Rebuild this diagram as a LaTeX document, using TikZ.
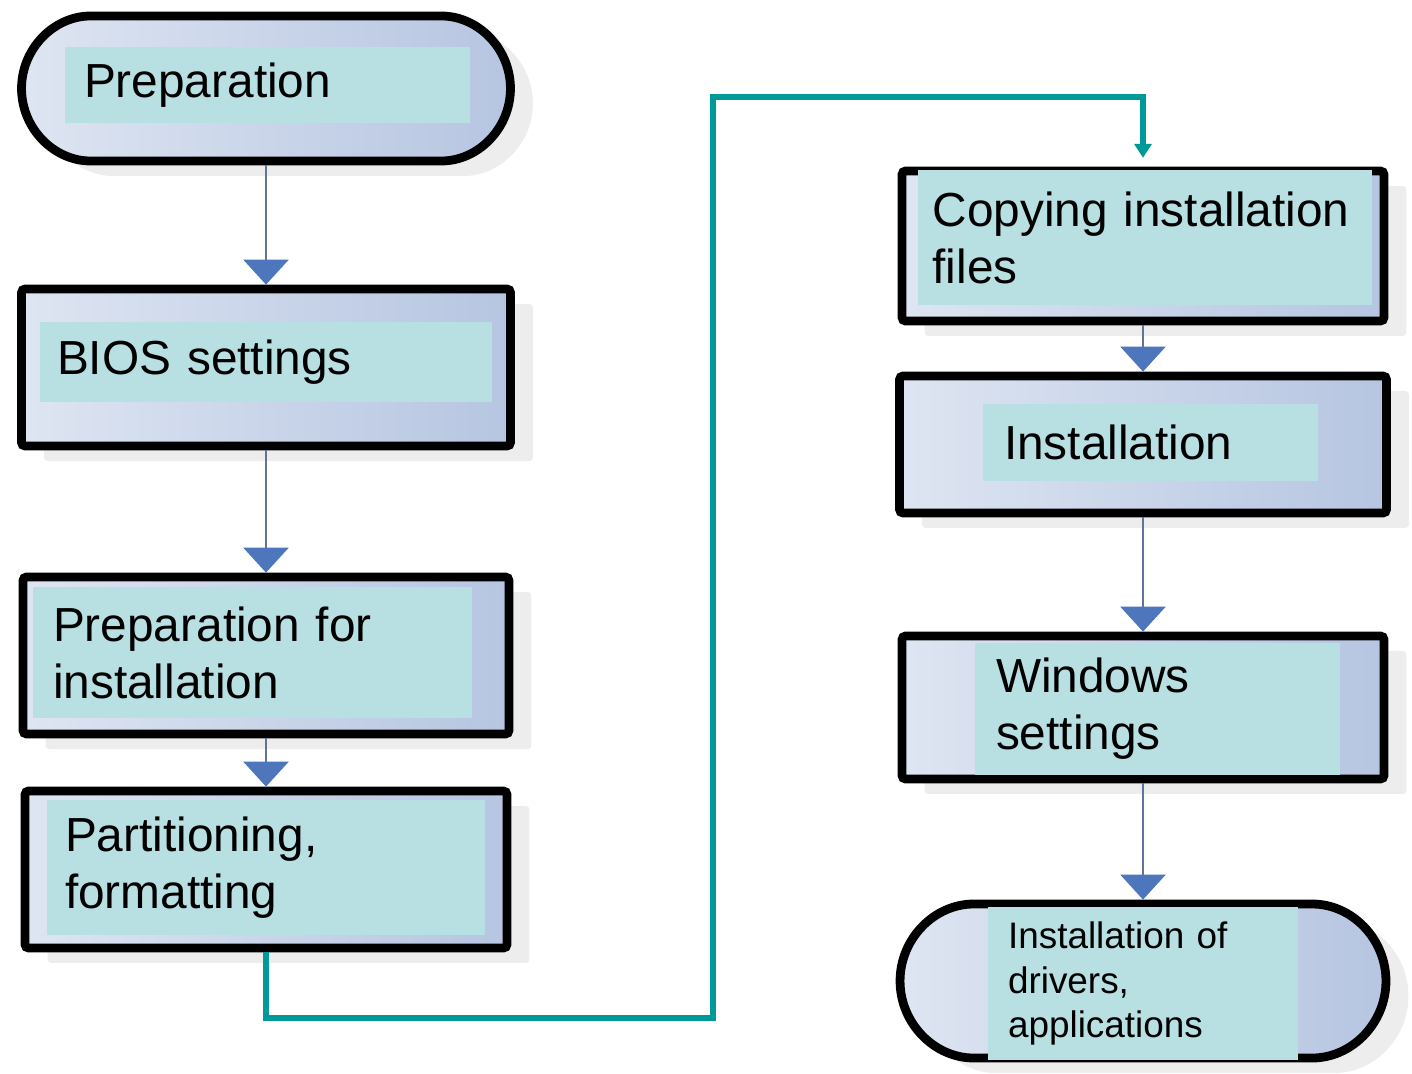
\documentclass[tikz,border=0pt]{standalone}
\usepackage{fontspec}
\setmainfont{Liberation Sans}
\usepackage{xcolor}
\usetikzlibrary{arrows.meta, shapes.misc, shadows}

\definecolor{lblcyan}{RGB}{184,223,226}
\definecolor{boxlight}{RGB}{222,229,242}
\definecolor{boxdark}{RGB}{182,197,225}
\definecolor{flowblue}{RGB}{78,118,188}
\definecolor{flowline}{RGB}{96,116,152}
\definecolor{linkteal}{RGB}{0,153,153}

\begin{document}
\begin{tikzpicture}[
    x=0.02cm, y=-0.02cm,
    stepbox/.style={draw=black, line width=5pt, rounded corners=2pt, inner sep=0pt,
                    left color=boxlight, right color=boxdark,
                    drop shadow={shadow xshift=0.45cm, shadow yshift=-0.3cm,
                                 fill=black, opacity=0.07}},
    endbox/.style={stepbox, rounded rectangle},
    lbl/.style={fill=lblcyan, align=left, inner ysep=0pt,
                font=\fontsize{27.2}{32.5}\selectfont},
    smalllbl/.style={lbl, font=\fontsize{21}{25.5}\selectfont},
    arr/.style={-{Triangle[width=0.9cm, length=0.5cm, color=flowblue]},
                draw=flowline, line width=1.6pt},
    link/.style={-{Triangle[width=0.34cm, length=0.28cm]}, draw=linkteal,
                 line width=3.2pt, shorten >=5pt},
]
\fill[white] (0,0) rectangle (1412,1074);
\useasboundingbox (0,0) rectangle (1412,1074);

% left column
\node[endbox, minimum width=9.78cm, minimum height=2.9cm] (prep) at (266,88.5) {};
\node[lbl, text width=7.34cm, inner xsep=0.38cm, minimum height=1.52cm] (prep-t) at (267.5,85) {Preparation};

\node[stepbox, minimum width=9.78cm, minimum height=3.14cm] (bios) at (266,367.5) {};
\node[lbl, text width=8.36cm, inner xsep=0.34cm, minimum height=1.6cm] (bios-t) at (266,362) {BIOS settings};

\node[stepbox, minimum width=9.72cm, minimum height=3.14cm] (prepinst) at (266,655.5) {};
\node[lbl, text width=7.98cm, inner xsep=0.4cm, minimum height=2.62cm] (prepinst-t) at (252.5,652.5) {Preparation for\\installation};

\node[stepbox, minimum width=9.64cm, minimum height=3.14cm] (part) at (266,869.5) {};
\node[lbl, text width=8.04cm, inner xsep=0.36cm, minimum height=2.7cm] (part-t) at (266,867.5) {Partitioning,\\formatting};

% right column
\node[stepbox, minimum width=9.64cm, minimum height=3.0cm] (copy) at (1143,246) {};
\node[lbl, text width=8.5cm, inner xsep=0.29cm, minimum height=2.7cm] (copy-t) at (1145,237.5) {Copying installation\\files};

\node[stepbox, minimum width=9.74cm, minimum height=2.74cm] (inst) at (1143,444.5) {};
\node[lbl, text width=5.86cm, inner xsep=0.42cm, minimum height=1.54cm] (inst-t) at (1150.5,442.5) {Installation};

\node[stepbox, minimum width=9.64cm, minimum height=2.86cm] (win) at (1143,707.5) {};
\node[lbl, text width=6.46cm, inner xsep=0.42cm, minimum height=2.64cm] (win-t) at (1157.5,709) {Windows\\settings};

\node[endbox, minimum width=9.72cm, minimum height=3.08cm] (drv) at (1143,981) {};
\node[smalllbl, text width=5.4cm, inner xsep=0.4cm, minimum height=3.06cm] (drv-t) at (1143,983.5) {Installation of\\drivers,\\applications};

% flow
\draw[arr] (prep.south) -- (bios.north);
\draw[arr] (bios.south) -- (prepinst.north);
\draw[arr] (prepinst.south) -- (part.north);
\draw[arr] (copy.south) -- (inst.north);
\draw[arr] (inst.south) -- (win.north);
\draw[arr] (win.south) -- (drv.north);

\coordinate (lowturn) at (713,1018);
\coordinate (topturn) at (713,97);
\draw[link] (part.south) |- (lowturn) -- (topturn) -| (copy.north);
\end{tikzpicture}
\end{document}
